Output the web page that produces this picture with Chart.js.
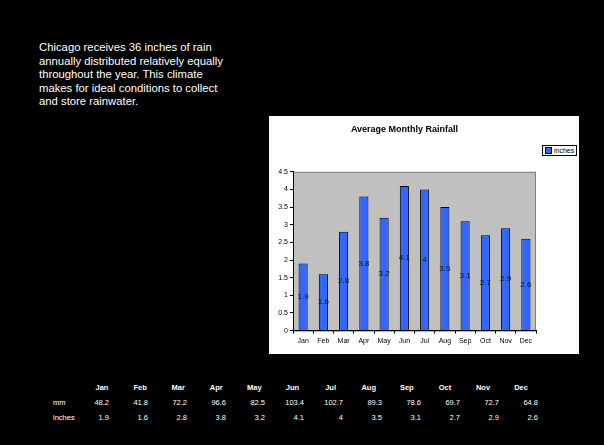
<!DOCTYPE html>
<html>
<head>
<meta charset="utf-8">
<script src="https://cdn.jsdelivr.net/npm/chart.js@4/dist/chart.umd.min.js"></script>
<style>
    body { margin: 0; background: #000; width: 604px; height: 445px; overflow: hidden; font-family: 'Liberation Sans', Arial, sans-serif; position: relative; }
    #intro { position: absolute; left: 39px; top: 41px; width: 193px; color: #fff; font-size: 11.3px; line-height: 13.5px; }
    #box { position: absolute; left: 269px; top: 116px; width: 310px; height: 238px; background: #fff; }
    #legend { position: absolute; left: 273px; top: 29px; border: 1px solid #000; font-size: 7px; padding: 1px 2px; display: flex; align-items: center; gap: 2px; background: #fff; }
    #legend span.sw { width: 5px; height: 5px; background: #3366ff; border: 1px solid #000; display: inline-block; }
    .cell { position: absolute; color: #fff; font-size: 7.5px; white-space: nowrap; }
    .hdr { font-weight: bold; }
</style>
</head>
<body>
<div id="intro">Chicago receives 36 inches of rain annually distributed relatively equally throughout the year. This climate makes for ideal conditions to collect and store rainwater.</div>
<div id="box">
    <canvas id="rainChart" width="310" height="238"></canvas>
    <div id="legend"><span class="sw"></span><span id="legend-label"></span></div>
</div>
<div id="table"></div>
<script>
const months = ['Jan', 'Feb', 'Mar', 'Apr', 'May', 'Jun', 'Jul', 'Aug', 'Sep', 'Oct', 'Nov', 'Dec'];
const rainMm = [48.2, 41.8, 72.2, 96.6, 82.5, 103.4, 102.7, 89.3, 78.6, 69.7, 72.7, 64.8];
const rainInches = [1.9, 1.6, 2.8, 3.8, 3.2, 4.1, 4, 3.5, 3.1, 2.7, 2.9, 2.6];
const seriesLabel = 'inches';
const chartTitle = 'Average Monthly Rainfall';

document.getElementById('legend-label').innerText = seriesLabel;

// Bottom table
const table = document.getElementById('table');
const addCell = (text, css, cls) => {
    const d = document.createElement('div');
    d.className = 'cell' + (cls ? ' ' + cls : '');
    d.innerText = text;
    Object.assign(d.style, css);
    table.appendChild(d);
};
months.forEach((m, i) => {
    addCell(m, { left: (102 + 38.1 * i - 8) + 'px', width: '16px', textAlign: 'center', top: '383px' }, 'hdr');
    addCell(rainMm[i], { right: (604 - 109 - 39 * i) + 'px', top: '398px' });
    addCell(rainInches[i], { right: (604 - 109 - 39 * i) + 'px', top: '413px' });
});
addCell('mm', { left: '53px', top: '398px' });
addCell('inches', { left: '53px', top: '413px' });

// Grey plot area background
const plotBg = {
    id: 'plotBg',
    beforeDraw(chart) {
        const { ctx, chartArea: a } = chart;
        ctx.save();
        ctx.fillStyle = '#c0c0c0';
        ctx.fillRect(a.left, a.top, a.right - a.left, a.bottom - a.top);
        ctx.strokeStyle = '#808080';
        ctx.lineWidth = 1;
        ctx.strokeRect(a.left + 0.5, a.top + 0.5, a.right - a.left - 1, a.bottom - a.top);
        ctx.restore();
    }
};

// Values written in the middle of each bar
const barValues = {
    id: 'barValues',
    afterDatasetsDraw(chart) {
        const { ctx } = chart;
        ctx.save();
        ctx.fillStyle = '#111';
        ctx.font = '8px "Liberation Sans", Arial, sans-serif';
        ctx.textAlign = 'center';
        ctx.textBaseline = 'middle';
        chart.getDatasetMeta(0).data.forEach((bar, i) => {
            ctx.fillText(String(chart.data.datasets[0].data[i]), bar.x, (bar.y + bar.base) / 2);
        });
        ctx.restore();
    }
};

Chart.defaults.font.family = '"Liberation Sans", Arial, sans-serif';
Chart.defaults.color = '#000';

new Chart(document.getElementById('rainChart'), {
    type: 'bar',
    data: {
        labels: months,
        datasets: [{
            label: seriesLabel,
            data: rainInches,
            backgroundColor: '#3366ff',
            borderColor: '#000',
            borderWidth: 1,
            borderSkipped: 'bottom',
            categoryPercentage: 1,
            barPercentage: 0.45
        }]
    },
    options: {
        responsive: false,
        animation: false,
        layout: { padding: { left: 4, right: 43, top: 0, bottom: 6 } },
        plugins: {
            legend: { display: false },
            tooltip: { enabled: false },
            title: {
                display: true,
                text: chartTitle,
                font: { size: 9, weight: 'bold' },
                padding: { top: 8, bottom: 37 }
            }
        },
        scales: {
            x: {
                grid: { display: true, drawOnChartArea: false, offset: true, color: '#000', tickLength: 3 },
                border: { color: '#000', width: 1 },
                ticks: { font: { size: 7 }, padding: 3, maxRotation: 0 }
            },
            y: {
                min: 0,
                max: 4.5,
                afterFit(scale) { scale.width = 20; },
                grid: { display: true, drawOnChartArea: false, color: '#000', tickLength: 3 },
                border: { color: '#000', width: 1 },
                ticks: { stepSize: 0.5, font: { size: 7 }, padding: 2, callback: v => String(v) }
            }
        }
    },
    plugins: [plotBg, barValues]
});
</script>
</body>
</html>
